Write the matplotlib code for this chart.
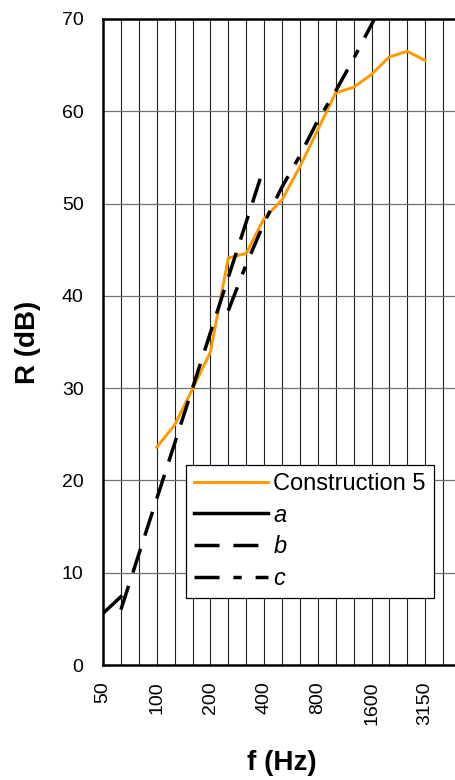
import numpy as np
import matplotlib
matplotlib.use("Agg")
import matplotlib.pyplot as plt

# 1/3 octave band centre frequencies (categorical axis)
bands = ['50', '63', '80', '100', '125', '160', '200', '250', '315', '400',
         '500', '630', '800', '1000', '1250', '1600', '2000', '2500', '3150', '4000']
tick_labels = ['50', '100', '200', '400', '800', '1600', '3150']

# measured curve, from 100 Hz to 3150 Hz
construction_5 = [23.6, 26.0, 29.9, 33.9, 44.1, 44.6, 48.4, 50.4,
                  54.0, 58.0, 62.0, 62.6, 64.0, 65.9, 66.5, 65.5]
# prediction segments
line_a = [5.6, 7.4]                                   # 50 - 63 Hz
line_b = [6.0, 12.0, 18.0, 24.0, 30.0, 36.0, 42.0, 48.0, 54.0]  # 63 - 400 Hz
line_c = [38.4, 43.4, 47.9, 51.8, 55.2, 59.0, 62.2, 65.7, 69.4, 73.0]  # 250 - 2000 Hz

plt.rcParams['font.family'] = ['Liberation Sans', 'DejaVu Sans']
plt.rcParams['lines.scale_dashes'] = False

fig = plt.figure(figsize=(4.55, 7.8), dpi=100)
ax = fig.add_axes([103 / 455, 115 / 780, 352 / 455, 646 / 780])

idx = np.arange(len(bands))
ax.plot(idx[3:3 + len(construction_5)], construction_5, color='#FF9900', lw=2.1,
        label='Construction 5', zorder=3)
ax.plot(idx[0:2], line_a, color='black', lw=2.5, label='a', zorder=4)
ax.plot(idx[1:1 + len(line_b)], line_b, color='black', lw=2.5,
        dashes=(18, 10), label='b', zorder=4)
ax.plot(idx[7:7 + len(line_c)], line_c, color='black', lw=2.5,
        dashes=(18, 10, 6, 10), label='c', zorder=4)

# grid: every band vertically, every 10 dB horizontally
for i in idx:
    ax.axvline(i, color='#202020', lw=0.8, zorder=1)
for v in range(10, 70, 10):
    ax.axhline(v, color='#707070', lw=0.9, zorder=1)

ax.set_xlim(0, 352 / 17.9)
ax.set_ylim(0, 70)
ax.set_yticks(range(0, 71, 10))
ax.set_xticks([bands.index(t) for t in tick_labels])
ax.set_xticklabels(tick_labels, rotation=90, va='top', ha='center')
ax.tick_params(axis='both', length=0, labelsize=14)
ax.tick_params(axis='y', pad=14)
ax.tick_params(axis='x', pad=12)

for s in ['left', 'bottom', 'top']:
    ax.spines[s].set_linewidth(1.8)
ax.spines['right'].set_visible(False)

fig.text(28 / 455, 1 - 342 / 780, 'R (dB)', rotation=90, ha='center', va='center',
         fontsize=20, fontweight='bold')
fig.text(282 / 455, 1 - 763 / 780, 'f (Hz)', ha='center', va='center',
         fontsize=20, fontweight='bold')

leg = ax.legend(loc='upper left', bbox_to_anchor=(0.236, 0.107, 0.705, 0.203),
                mode='expand', fontsize=17, handlelength=3.1, handletextpad=0.25,
                labelspacing=0.37, borderpad=0.35, fancybox=False, framealpha=1,
                edgecolor='black', borderaxespad=0)
leg.get_frame().set_linewidth(0.9)
for t in leg.get_texts()[1:]:
    t.set_style('italic')

fig.savefig('out.png', dpi=100)
